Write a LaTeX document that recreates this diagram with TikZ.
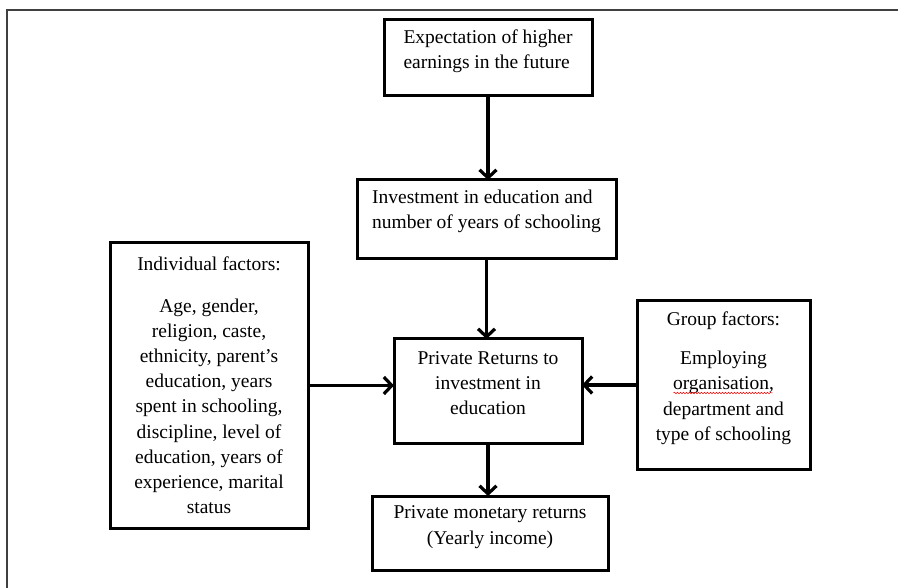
\documentclass[tikz,border=0pt]{standalone}
\usepackage{fontspec}
\setmainfont{Liberation Serif}
\usepackage{tikz}
\usetikzlibrary{arrows.meta,positioning,decorations.pathmorphing}

\newcommand{\lowpad}[1]{\rule[-#1]{0pt}{1pt}}

\begin{document}
\begin{tikzpicture}[x=1pt,y=-1pt,
  box/.style={draw,line width=3pt,inner sep=0pt,outer sep=0pt,
    font=\fontsize{19.5}{25.2}\selectfont},
  arr/.style={line width=3.2pt,-{Straight Barb[length=8pt,width=17pt]}}]
\useasboundingbox (0,0) rectangle (898,588);
% outer frame
\draw[line width=2.2pt,black!75] (7,600) -- (7,10) -- (905,10);

\node[box,minimum width=208pt,minimum height=76pt,align=left] (expect) at (488,58)
  {Expectation of higher\\earnings in the future\lowpad{18pt}};
\node[box,minimum width=259pt,minimum height=79pt,align=left] (invest) at (486.5,219.5)
  {Investment in education and\\number of years of schooling\lowpad{20pt}};
\node[box,minimum width=198pt,minimum height=285pt,align=center] (indiv) at (209,385.5)
  {Individual factors:\\[16pt]Age, gender,\\religion, caste,\\ethnicity, parent's\\education, years\\spent in schooling,\\discipline, level of\\education, years of\\experience, marital\\status};
\node[box,minimum width=188pt,minimum height=104pt,align=center] (returns) at (488,391)
  {Private Returns to\\investment in\\education\lowpad{16pt}};
\node[box,minimum width=173pt,minimum height=168pt,align=center] (group) at (723.5,385)
  {Group factors:\\[14pt]Employing\\organisation,\\department and\\type of schooling\lowpad{18pt}};
\node[box,minimum width=236pt,minimum height=74pt,align=center] (income) at (490,533)
  {Private monetary returns\\(Yearly income)\lowpad{16pt}};

% spell-check mark
\draw[red,line width=0.5pt,decorate,decoration={snake,amplitude=0.8pt,segment length=3pt}]
  ([xshift=-50pt,yshift=-8pt]group.center) -- ([xshift=49pt,yshift=-8pt]group.center);

\draw[arr] (expect.south) -- (expect.south |- invest.north);
\draw[arr] (invest.south) -- (invest.south |- returns.north);
\draw[arr] (returns.south) -- (returns.south |- income.north);
\draw[arr] (indiv.east) -- (indiv.east -| returns.west);
\draw[arr] (group.west) -- (group.west -| returns.east);
\end{tikzpicture}
\end{document}
